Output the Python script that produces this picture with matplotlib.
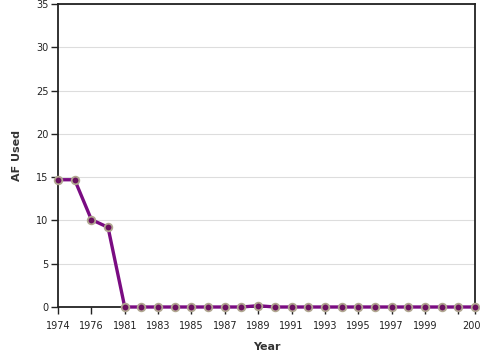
import matplotlib
matplotlib.use('Agg')
import matplotlib.pyplot as plt

# AF used per year (ordinal x axis, 1978-1980 absent)
years = [1974, 1975, 1976, 1977, 1981, 1982, 1983, 1984, 1985, 1986, 1987, 1988, 1989,
         1990, 1991, 1992, 1993, 1994, 1995, 1996, 1997, 1998, 1999, 2000, 2001, 2002]
af_used = [14.7, 14.7, 10.1, 9.2, 0, 0, 0, 0, 0, 0, 0, 0, 0.15,
           0, 0, 0, 0, 0, 0, 0, 0, 0, 0, 0, 0, 0]
y_ticks = [0, 5, 10, 15, 20, 25, 30, 35]

fig = plt.figure(figsize=(4.8, 3.6), dpi=100)
ax = fig.add_axes([58 / 480, 1 - 307 / 360, 417 / 480, 303 / 360])

x = list(range(len(years)))
ax.plot(x, af_used, color='#7a0c82', linewidth=2.4, marker='o', markersize=5.5,
        markerfacecolor='#6a1060', markeredgecolor='#b0a690', markeredgewidth=1.3,
        clip_on=False, zorder=3)

ax.set_xlim(0, len(years) - 1)
ax.set_ylim(0, 35)
ax.set_yticks(y_ticks)
ax.grid(axis='y', color='#dddddd', linewidth=0.8)
ax.set_axisbelow(True)

# every other year labelled, plus the last one
tick_idx = list(range(0, len(years), 2)) + [len(years) - 1]
tick_lab = [str(years[i]) for i in tick_idx]
tick_lab[-2] = ''
ax.set_xticks(tick_idx)
ax.set_xticklabels(tick_lab)

for s in ax.spines.values():
    s.set_color('#222222')
    s.set_linewidth(1.3)
ax.tick_params(axis='both', labelsize=7, length=5, width=1, color='#222222',
               labelcolor='#222222', pad=2)
ax.tick_params(axis='x', pad=5)
for lab in ax.get_xticklabels():
    lab.set_clip_on(False)

ax.set_xlabel('Year', fontsize=8, fontweight='bold', color='#333333', labelpad=8)
ax.set_ylabel('AF Used', fontsize=8, fontweight='bold', color='#333333', labelpad=10)

fig.savefig('out.png', dpi=100)
